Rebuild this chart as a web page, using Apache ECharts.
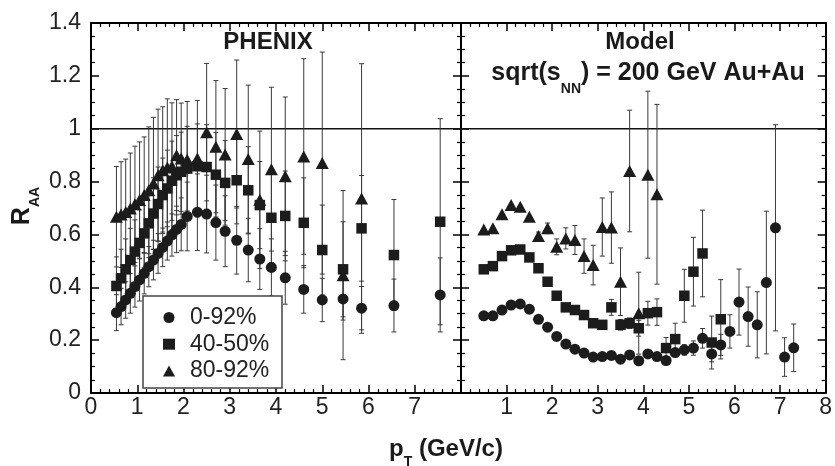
<!DOCTYPE html>
<html>
<head>
<meta charset="utf-8">
<script src="https://cdn.jsdelivr.net/npm/echarts@6/dist/echarts.min.js"></script>
<style>
  html, body { margin: 0; padding: 0; background: #fff; }
  #chart { width: 835px; height: 466px; }
</style>
</head>
<body>
<div id="chart"></div>
<script>
// ---- PHENIX measurement (left panel) ----
const phxPt = [0.55, 0.65, 0.75, 0.85, 0.95, 1.05, 1.15, 1.25, 1.35, 1.45, 1.55, 1.65, 1.75, 1.85, 1.95,
               2.08, 2.3, 2.5, 2.7, 2.9, 3.15, 3.4, 3.65, 3.9, 4.2, 4.6, 5.0, 5.45, 5.85, 6.55, 7.55];
const phxCentral = [0.304, 0.327, 0.352, 0.377, 0.403, 0.428, 0.453, 0.478, 0.503, 0.528, 0.551, 0.575, 0.598, 0.619, 0.638,
                    0.668, 0.684, 0.677, 0.645, 0.612, 0.578, 0.541, 0.507, 0.475, 0.436, 0.392, 0.352, 0.356, 0.321, 0.331, 0.371];
const phxCentralErr = [0.068, 0.069, 0.069, 0.075, 0.078, 0.08, 0.078, 0.076, 0.075, 0.075, 0.073, 0.072, 0.08, 0.088, 0.1,
                       0.13, 0.145, 0.147, 0.142, 0.134, 0.128, 0.12, 0.115, 0.108, 0.1, 0.09, 0.082, 0.08, 0.082, 0.1, 0.14];
const phxMid = [0.405, 0.434, 0.468, 0.503, 0.535, 0.568, 0.604, 0.642, 0.679, 0.715, 0.749, 0.774, 0.803, 0.824, 0.837,
                0.849, 0.858, 0.855, 0.826, 0.795, 0.805, 0.767, 0.711, 0.663, 0.670, 0.644, 0.541, 0.468, 0.623, 0.522, 0.648];
const phxMidErr = [0.11, 0.11, 0.115, 0.12, 0.12, 0.125, 0.13, 0.13, 0.135, 0.14, 0.14, 0.145, 0.15, 0.15, 0.15,
                   0.16, 0.16, 0.16, 0.16, 0.16, 0.165, 0.165, 0.165, 0.17, 0.17, 0.17, 0.17, 0.18, 0.2, 0.21, 0.39];
const phxPeri = [0.667, 0.675, 0.685, 0.698, 0.714, 0.730, 0.749, 0.767, 0.793, 0.824, 0.843, 0.853, 0.858, 0.900, 0.887,
                 0.883, 0.887, 0.987, 0.932, 0.902, 0.980, 0.885, 0.731, 0.847, 0.820, 0.895, 0.870, 0.446, 0.736, null, null];
const phxPeriErr = [0.19, 0.2, 0.2, 0.21, 0.22, 0.22, 0.22, 0.24, 0.25, 0.25, 0.24, 0.26, 0.24, 0.21, 0.21,
                    0.22, 0.22, 0.26, 0.25, 0.25, 0.28, 0.28, 0.26, 0.31, 0.30, 0.37, 0.42, 0.32, 0.51, null, null];

// ---- Model calculation (right panel) ----
const modelPt = [0.5, 0.7, 0.9, 1.1, 1.3, 1.5, 1.7, 1.9, 2.1, 2.3, 2.5, 2.7, 2.9, 3.1, 3.3, 3.5, 3.7, 3.9, 4.1, 4.3,
                 4.5, 4.7, 4.9, 5.1, 5.3, 5.5, 5.7, 5.9, 6.1, 6.3, 6.5, 6.7, 6.9, 7.1, 7.3];
const modelCentral = [0.292, 0.292, 0.314, 0.333, 0.337, 0.317, 0.279, 0.249, 0.214, 0.185, 0.166, 0.151, 0.136, 0.138, 0.142,
                      0.128, 0.144, 0.122, 0.148, 0.138, 0.123, 0.153, 0.163, 0.170, 0.207, 0.148, 0.182, 0.233, 0.344, 0.289,
                      0.258, 0.418, 0.625, 0.136, 0.171];
const modelCentralErr = [0, 0, 0, 0, 0, 0, 0, 0, 0, 0, 0, 0, 0, 0, 0, 0, 0, 0, 0, 0,
                         0, 0.01, 0.02, 0.027, 0.037, 0.03, 0.04, 0.063, 0.125, 0.112, 0.125, 0.27, 0.39, 0.073, 0.09];
const modelMid = [0.468, 0.480, 0.518, 0.540, 0.543, 0.513, 0.472, 0.421, 0.368, 0.324, 0.314, 0.295, 0.264, 0.258, 0.324,
                  0.258, 0.264, 0.245, 0.302, 0.306, 0.170, 0.204, 0.368, 0.459, 0.528, 0.191, 0.279];
const modelMidErr = [0, 0, 0, 0, 0, 0, 0, 0, 0, 0, 0, 0, 0, 0, 0.03,
                     0.02, 0.02, 0.03, 0.045, 0.05, 0.04, 0.06, 0.1, 0.13, 0.164, 0.1, 0.15];
const modelPeri = [0.619, 0.623, 0.676, 0.711, 0.705, 0.667, 0.594, 0.623, 0.553, 0.585, 0.579, 0.518, 0.484, 0.628, 0.626,
                   0.421, 0.840, 0.302, 0.826, 0.752];
const modelPeriErr = [0, 0, 0, 0, 0, 0, 0.015, 0.02, 0.03, 0.04, 0.055, 0.065, 0.075, 0.11, 0.135,
                      0.128, 0.23, 0.155, 0.316, 0.34];

// ---- axes ----
const xTickLabels = ['0', '1', '2', '3', '4', '5', '6', '7', '8'];
const yTickLabels = ['0', '0.2', '0.4', '0.6', '0.8', '1', '1.2', '1.4'];
const legendNames = ['0-92%', '40-50%', '80-92%'];

const INK = '#1c1c1c';
const FONT = '"Liberation Sans", Arial, Helvetica, sans-serif';

const grids = [
  { left: 91, top: 23, width: 370, height: 370 },
  { left: 461, top: 23, width: 371, height: 370 }
];

function xAxisFor(gridIndex, position, labelFn) {
  return {
    type: 'value', gridIndex, position, min: 0, max: 8, interval: 1,
    axisLine: { show: true, onZero: false, lineStyle: { color: '#000', width: 2 } },
    axisTick: { show: true, inside: true, length: 8, lineStyle: { color: '#000', width: 1.5 } },
    minorTick: { show: true, splitNumber: 5, length: 4, lineStyle: { color: '#000', width: 1.2 } },
    splitLine: { show: false },
    axisLabel: labelFn ? {
      show: true, margin: 3, fontFamily: FONT, fontSize: 23, color: '#222',
      formatter: labelFn
    } : { show: false }
  };
}
function yAxisFor(gridIndex, position, withLabels) {
  return {
    type: 'value', gridIndex, position, min: 0, max: 1.4, interval: 0.2,
    axisLine: { show: true, onZero: false, lineStyle: { color: '#000', width: 2 } },
    axisTick: { show: true, inside: true, length: 8, lineStyle: { color: '#000', width: 1.5 } },
    minorTick: { show: true, splitNumber: 4, length: 4, lineStyle: { color: '#000', width: 1.2 } },
    splitLine: { show: false },
    axisLabel: withLabels ? {
      show: true, margin: 10, fontFamily: FONT, fontSize: 23, color: '#222',
      formatter: v => yTickLabels[Math.round(v / 0.2)]
    } : { show: false }
  };
}

const xAxes = [
  xAxisFor(0, 'bottom', v => (v >= 8 ? '' : xTickLabels[Math.round(v)])),
  xAxisFor(0, 'top', null),
  xAxisFor(1, 'bottom', v => (v <= 0 ? '' : xTickLabels[Math.round(v)])),
  xAxisFor(1, 'top', null)
];
const yAxes = [
  yAxisFor(0, 'left', true),
  yAxisFor(0, 'right', false),
  yAxisFor(1, 'left', false),
  yAxisFor(1, 'right', false)
];

// vertical error bar with short caps
function errorBarItem(params, api) {
  const x = api.value(0);
  const lo = api.coord([x, api.value(1)]);
  const hi = api.coord([x, api.value(2)]);
  const cap = 2.5;
  const style = { stroke: '#3a3a3a', lineWidth: 1 };
  return {
    type: 'group',
    children: [
      { type: 'line', shape: { x1: lo[0], y1: lo[1], x2: hi[0], y2: hi[1] }, style },
      { type: 'line', shape: { x1: hi[0] - cap, y1: hi[1], x2: hi[0] + cap, y2: hi[1] }, style },
      { type: 'line', shape: { x1: lo[0] - cap, y1: lo[1], x2: lo[0] + cap, y2: lo[1] }, style }
    ]
  };
}

function seriesFor(panel, pts, vals, errs, name, symbol, size) {
  const axisIdx = panel * 2;
  const errData = [];
  const ptData = [];
  pts.forEach((x, i) => {
    if (i >= vals.length || vals[i] == null) return;
    ptData.push([x, vals[i]]);
    const e = errs[i];
    if (e) errData.push([x, vals[i] - e, vals[i] + e]);
  });
  return [
    {
      type: 'custom', name, xAxisIndex: axisIdx, yAxisIndex: axisIdx,
      renderItem: errorBarItem, data: errData, encode: { x: 0, y: [1, 2] },
      z: 2, silent: true, clip: false
    },
    {
      type: 'scatter', name, xAxisIndex: axisIdx, yAxisIndex: axisIdx,
      symbol, symbolSize: size, data: ptData,
      itemStyle: { color: INK, opacity: 1 }, z: 3, silent: true
    }
  ];
}

function unityLine(panel) {
  return {
    type: 'line', xAxisIndex: panel * 2, yAxisIndex: panel * 2,
    data: [[0, 1], [8, 1]], symbol: 'none', silent: true, z: 1,
    lineStyle: { color: '#111', width: 1.5 }
  };
}

const series = [
  unityLine(0), unityLine(1),
  ...seriesFor(0, phxPt, phxCentral, phxCentralErr, legendNames[0], 'circle', 11),
  ...seriesFor(0, phxPt, phxMid, phxMidErr, legendNames[1], 'rect', 10.5),
  ...seriesFor(0, phxPt, phxPeri, phxPeriErr, legendNames[2], 'triangle', [13, 12]),
  ...seriesFor(1, modelPt, modelCentral, modelCentralErr, legendNames[0], 'circle', 11),
  ...seriesFor(1, modelPt, modelMid, modelMidErr, legendNames[1], 'rect', 10.5),
  ...seriesFor(1, modelPt, modelPeri, modelPeriErr, legendNames[2], 'triangle', [13, 12])
];

// text with subscripts laid out from measured glyph widths
const measure = document.createElement('canvas').getContext('2d');
function widthOf(str, size) {
  measure.font = 'bold ' + size + 'px ' + FONT;
  return measure.measureText(str).width;
}
function labelGroup(parts, cx, cy, rotation) {
  const total = parts.reduce((s, p) => s + widthOf(p.text, p.size), 0);
  let x = -total / 2;
  const children = parts.map(p => {
    const t = {
      type: 'text', x, y: p.dy || 0,
      style: {
        text: p.text, fontFamily: FONT, fontWeight: 'bold', fontSize: p.size,
        fill: '#1a1a1a', align: 'left', verticalAlign: 'middle'
      }
    };
    x += widthOf(p.text, p.size);
    return t;
  });
  return { type: 'group', x: cx, y: cy, rotation: rotation || 0, children, z: 10 };
}

const graphics = [
  { type: 'rect', shape: { x: 143, y: 296, width: 139, height: 92 },
    style: { fill: '#fff', stroke: '#444', lineWidth: 1.5 }, z: 5 },
  labelGroup([{ text: 'PHENIX', size: 24 }], 268, 42),
  labelGroup([{ text: 'Model', size: 24 }], 640, 42),
  labelGroup([
    { text: 'sqrt(s', size: 25 },
    { text: 'NN', size: 14, dy: 16 },
    { text: ') = 200 GeV Au+Au', size: 25 }
  ], 648, 73),
  labelGroup([
    { text: 'p', size: 24 },
    { text: 'T', size: 14, dy: 13 },
    { text: ' (GeV/c)', size: 24 }
  ], 446, 449),
  labelGroup([
    { text: 'R', size: 25 },
    { text: 'AA', size: 14, dy: 13 }
  ], 22, 206, Math.PI / 2)
];

const chart = echarts.init(document.getElementById('chart'), null, { renderer: 'canvas' });
chart.setOption({
  animation: false,
  backgroundColor: '#fff',
  grid: grids,
  xAxis: xAxes,
  yAxis: yAxes,
  legend: {
    show: true, orient: 'vertical', left: 163, top: 306, padding: 0,
    itemWidth: 12, itemHeight: 11, itemGap: 3.7, selectedMode: false,
    data: [
      { name: legendNames[0], icon: 'circle' },
      { name: legendNames[1], icon: 'rect' },
      { name: legendNames[2], icon: 'triangle' }
    ],
    itemStyle: { color: INK },
    textStyle: { fontFamily: FONT, fontSize: 23, lineHeight: 22, color: '#222', padding: [0, 0, 0, 10] },
    z: 6
  },
  graphic: graphics,
  series
});
</script>
</body>
</html>
